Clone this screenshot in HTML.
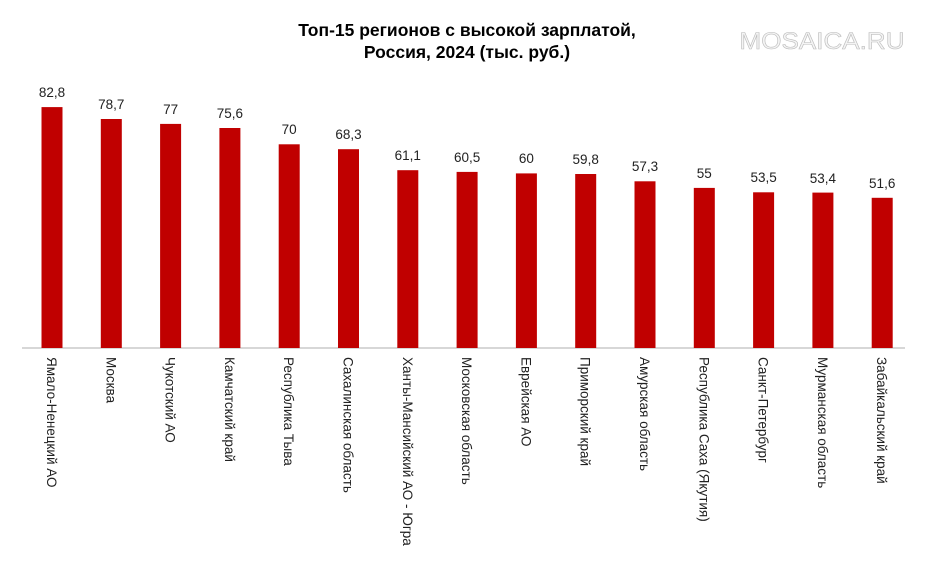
<!DOCTYPE html>
<html><head><meta charset="utf-8"><style>
body{margin:0;background:#fff}
svg{display:block}
</style></head><body>
<svg width="935" height="567" xmlns="http://www.w3.org/2000/svg" font-family="Liberation Sans, Arial, sans-serif">
<rect width="935" height="567" fill="#fff"/>
<text x="467" y="36" text-anchor="middle" font-size="17.5" font-weight="bold" fill="#000">Топ-15 регионов с высокой зарплатой,</text>
<text x="467" y="58" text-anchor="middle" font-size="17.5" font-weight="bold" fill="#000">Россия, 2024 (тыс. руб.)</text>
<text x="822" y="49" text-anchor="middle" font-size="24" fill="#f4f4f4" stroke="#bbb" stroke-width="0.6" textLength="165" lengthAdjust="spacingAndGlyphs">MOSAICA.RU</text>
<line x1="22" y1="348" x2="905" y2="348" stroke="#bfbfbf" stroke-width="1.2"/>
<g fill="#c00000">
<rect x="41.5" y="107.1" width="21" height="240.9"/>
<rect x="100.8" y="119.0" width="21" height="229.0"/>
<rect x="160.1" y="123.9" width="21" height="224.1"/>
<rect x="219.4" y="128.0" width="21" height="220.0"/>
<rect x="278.7" y="144.3" width="21" height="203.7"/>
<rect x="338.0" y="149.2" width="21" height="198.8"/>
<rect x="397.3" y="170.2" width="21" height="177.8"/>
<rect x="456.6" y="171.9" width="21" height="176.1"/>
<rect x="515.9" y="173.4" width="21" height="174.6"/>
<rect x="575.2" y="174.0" width="21" height="174.0"/>
<rect x="634.5" y="181.3" width="21" height="166.7"/>
<rect x="693.8" y="187.9" width="21" height="160.1"/>
<rect x="753.1" y="192.3" width="21" height="155.7"/>
<rect x="812.4" y="192.6" width="21" height="155.4"/>
<rect x="871.7" y="197.8" width="21" height="150.2"/>
</g>
<g font-size="13.5" fill="#222" text-anchor="middle">
<text x="52" y="97">82,8</text>
<text x="111.3" y="109">78,7</text>
<text x="170.6" y="114">77</text>
<text x="229.9" y="118">75,6</text>
<text x="289.2" y="134">70</text>
<text x="348.5" y="139">68,3</text>
<text x="407.8" y="160">61,1</text>
<text x="467.1" y="162">60,5</text>
<text x="526.4" y="163">60</text>
<text x="585.7" y="164">59,8</text>
<text x="645" y="171">57,3</text>
<text x="704.3" y="178">55</text>
<text x="763.6" y="182">53,5</text>
<text x="822.9" y="183">53,4</text>
<text x="882.2" y="188">51,6</text>
</g>
<g font-size="13.5" fill="#222">
<text transform="translate(47,357) rotate(90)">Ямало-Ненецкий АО</text>
<text transform="translate(106.3,357) rotate(90)">Москва</text>
<text transform="translate(165.6,357) rotate(90)">Чукотский АО</text>
<text transform="translate(224.9,357) rotate(90)">Камчатский край</text>
<text transform="translate(284.2,357) rotate(90)">Республика Тыва</text>
<text transform="translate(343.5,357) rotate(90)">Сахалинская область</text>
<text transform="translate(402.8,357) rotate(90)">Ханты-Мансийский АО - Югра</text>
<text transform="translate(462.1,357) rotate(90)">Московская область</text>
<text transform="translate(521.4,357) rotate(90)">Еврейская АО</text>
<text transform="translate(580.7,357) rotate(90)">Приморский край</text>
<text transform="translate(640,357) rotate(90)">Амурская область</text>
<text transform="translate(699.3,357) rotate(90)">Республика Саха (Якутия)</text>
<text transform="translate(758.6,357) rotate(90)">Санкт-Петербург</text>
<text transform="translate(817.9,357) rotate(90)">Мурманская область</text>
<text transform="translate(877.2,357) rotate(90)">Забайкальский край</text>
</g>
</svg>
</body></html>
